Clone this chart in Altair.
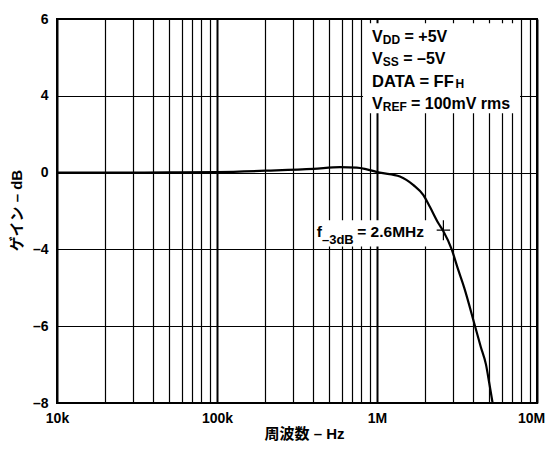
import altair as alt
import pandas as pd

# Frequency response (gain in dB, 2 dB per grid division)
freq = [1e4, 2e4, 5e4, 1e5, 2.05e5, 4.0e5, 5.87e5, 7.47e5, 8.63e5, 1.04e6,
        1.39e6, 1.69e6, 1.95e6, 2.14e6, 2.42e6, 2.6e6, 2.93e6, 3.22e6,
        3.51e6, 4.10e6, 4.45e6, 4.80e6, 5.03e6, 5.28e6]
gain = [0.0, 0.0, 0.01, 0.03, 0.10, 0.19, 0.28, 0.26, 0.17, 0.0,
        -0.2, -0.65, -1.17, -1.78, -2.64, -3.05, -4.0, -5.07,
        -6.0, -8.0, -9.07, -10.0, -10.96, -12.0]

# axis ticks / labels
decades = [10000, 100000, 1000000, 10000000]
decade_labels = ["10k", "100k", "1M", "10M"]
x_grid = [k * d for d in decades[:-1] for k in range(1, 10)] + [decades[-1]]
y_grid = list(range(-12, 9, 2))
y_label_vals = [8, 4, 0, -4, -8, -12]
y_label_text = ["6", "4", "0", "–4", "–6", "–8"]

FONT = "Liberation Sans, Noto Sans CJK JP"

df = pd.DataFrame({"freq": freq, "gain": gain})
one = pd.DataFrame({"a": [0]})

x_expr = " : ".join(f"datum.value == {v} ? '{t}'" for v, t in zip(decades, decade_labels)) + " : ''"
y_expr = " : ".join(f"datum.value == {v} ? '{t}'" for v, t in zip(y_label_vals, y_label_text)) + " : ''"
decade_test = "indexof([" + ",".join(str(d) for d in decades) + "], datum.value) >= 0"
last_test = f"datum.value == {decades[-1]}"

x_enc = alt.X(
    "freq:Q",
    scale=alt.Scale(type="log", domain=[1e4, 1e7], nice=False),
    axis=alt.Axis(
        values=x_grid, labelExpr=x_expr, title="周波数 – Hz",
        grid=True, gridColor="black",
        gridWidth={"condition": {"test": decade_test, "value": 2}, "value": 1.2},
        labelOffset={"condition": {"test": last_test, "value": -6}, "value": 0},
        ticks=False, domain=False, labelFlush=False, labelOverlap=False,
        labelPadding=8, labelFont=FONT, labelFontSize=14, labelFontWeight="bold",
        labelColor="black", titleFont=FONT, titleFontSize=15, titleFontWeight="bold",
        titleColor="black", titleX=247, titleY=30, titleBaseline="middle",
    ),
)
y_enc = alt.Y(
    "gain:Q",
    scale=alt.Scale(domain=[-12, 8], nice=False, zero=False),
    axis=alt.Axis(
        values=y_grid, labelExpr=y_expr, title="ゲイン – dB",
        grid=True, gridColor="black", gridWidth=1.2,
        ticks=False, domain=False, labelFlush=False, labelOverlap=False,
        labelPadding=9, labelFont=FONT, labelFontSize=14, labelFontWeight="bold",
        labelColor="black", titleFont=FONT, titleFontSize=15, titleFontWeight="bold",
        titleColor="black", titleX=-41, titleY=191, titleBaseline="middle",
    ),
)

curve = alt.Chart(df).mark_line(
    color="black", strokeWidth=2.2, interpolate="monotone", clip=True
).encode(x=x_enc, y=y_enc)


def box(x1, x2, y1, y2):
    return alt.Chart(one).mark_rect(color="white").encode(
        x=alt.datum(x1), x2=alt.datum(x2), y=alt.datum(y1), y2=alt.datum(y2)
    )


def txt(s, x, y, size, dx=0, dy=0):
    return alt.Chart(one).mark_text(
        text=s, align="left", baseline="alphabetic", font=FONT,
        fontWeight="bold", fontSize=size, dx=dx, dy=dy, color="black"
    ).encode(x=alt.datum(x), y=alt.datum(y))


tx = 9.31e5
layers = [
    box(8.18e5, 7.83e6, 7.78, 3.09),
    box(4.10e5, 2.37e6, -2.48, -3.85),
    curve,
    txt("V", tx, 6.79, 16), txt("DD", tx, 6.79, 12, dx=10.7, dy=1.7),
    txt("= +5V", tx, 6.79, 16, dx=32.5),
    txt("V", tx, 5.64, 16), txt("SS", tx, 5.64, 12, dx=10.7, dy=1.7),
    txt("= –5V", tx, 5.64, 16, dx=31.2),
    txt("DATA = FF", tx, 4.47, 16.5), txt("H", tx, 4.47, 12, dx=83.5, dy=1.7),
    txt("V", tx, 3.30, 16), txt("REF", tx, 3.30, 12, dx=10.7, dy=1.7),
    txt("= 100mV rms", tx, 3.30, 16, dx=39),
    txt("f", 4.2e5, -3.35, 15.5), txt("–3dB", 4.2e5, -3.35, 13, dx=5.2, dy=7.5),
    txt("= 2.6MHz", 4.2e5, -3.35, 15.5, dx=40.5),
    alt.Chart(one).mark_point(
        shape="M-1,0H1M0,-1.5V1.5", size=180, filled=False,
        stroke="black", strokeWidth=1.2, opacity=1
    ).encode(x=alt.datum(2.6e6), y=alt.datum(-3.0)),
]

chart = alt.layer(*layers).properties(
    width=480, height=384,
    padding={"left": 49, "top": 11, "right": 10, "bottom": 38},
    autosize=alt.AutoSizeParams(type="none"),
).configure_view(stroke="black", strokeWidth=2)

chart.save("out.html", embed_options={"renderer": "svg", "actions": False})
